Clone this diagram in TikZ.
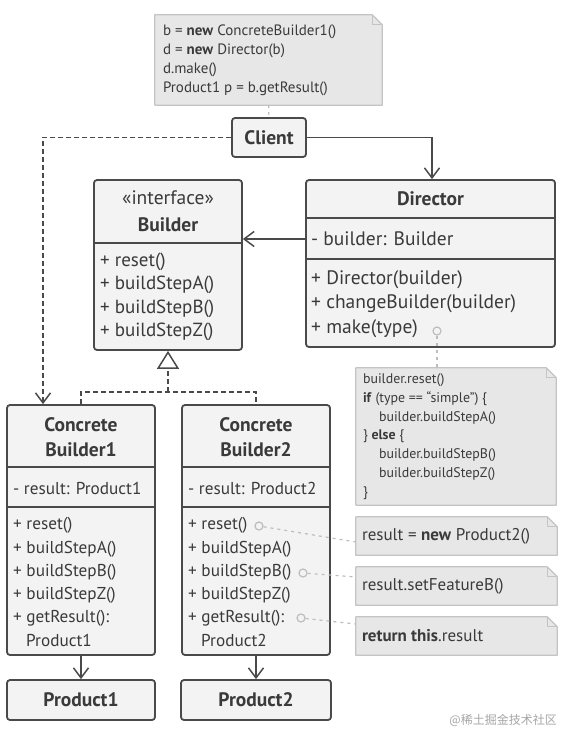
\documentclass[tikz,border=0pt]{standalone}
\usepackage{fontspec}
\setmainfont{PT Sans}
\newfontfamily\cjkfont{Noto Sans CJK SC}
\usetikzlibrary{arrows.meta,positioning}

\definecolor{boxline}{HTML}{4A4A4A}
\definecolor{boxfill}{HTML}{F3F3F3}
\definecolor{notefill}{HTML}{E7E7E7}
\definecolor{noteline}{HTML}{C4C4C4}
\definecolor{hintline}{HTML}{BDBDBD}
\definecolor{txt}{HTML}{3A3A3A}

\tikzset{
  umlbox/.style={draw=boxline, fill=boxfill, line width=1.8pt, rounded corners=3pt, inner sep=0pt, text=txt},
  sepline/.style={draw=boxline, line width=1.8pt},
  heading/.style={inner sep=0pt, align=center, text=txt, font=\bfseries\fontsize{19.5}{25}\selectfont},
  member/.style={anchor=west, inner sep=0pt, align=left, text=txt, font=\fontsize{17.2}{23.3}\selectfont},
  notearea/.style={inner sep=0pt, draw=none},
  notebox/.style={draw=noteline, fill=notefill, line width=1.2pt, line join=round},
  notetext/.style={anchor=west, inner sep=0pt, align=left, text=txt},
  link/.style={draw=boxline, line width=1.5pt, -{Straight Barb[length=10pt,width=15pt]}},
  realize/.style={draw=boxline, line width=1.5pt, dash pattern=on 5pt off 3pt},
  hint/.style={draw=hintline, line width=1.2pt, dash pattern=on 3pt off 4pt},
  hintdot/.style={circle, draw=hintline, line width=1.2pt, fill=boxfill, minimum size=8pt, inner sep=0pt}
}

% note with folded corner, drawn round an empty node
\newcommand{\foldnote}[1]{%
  \draw[notebox] (#1.north west) -- ([xshift=-10pt]#1.north east) -- ([yshift=-10pt]#1.north east) -- (#1.south east) -- (#1.south west) -- cycle;
  \draw[notebox, fill=none] ([xshift=-10pt]#1.north east) -- ([xshift=-10pt,yshift=-10pt]#1.north east) -- ([yshift=-10pt]#1.north east);
}

\begin{document}
\begin{tikzpicture}[x=1pt, y=-1pt]
  \useasboundingbox[fill=white] (0,0) rectangle (574,746);

  % client and its note
  \node[notearea, minimum width=227pt, minimum height=90pt] (cnote) at (268.5,60) {};
  \foldnote{cnote}
  \node[notetext, font=\fontsize{15}{19}\selectfont] (ctext) at ([xshift=8pt]cnote.west) {b = \textbf{new} ConcreteBuilder1()\\d = \textbf{new} Director(b)\\d.make()\\Product1 p = b.getResult()};
  \node[umlbox, minimum width=74pt, minimum height=39pt, font=\bfseries\fontsize{19.5}{22}\selectfont] (client) at (269,137.5) {Client};
  \draw[hint] (cnote) -- (client);

  % director
  \node[umlbox, minimum width=249pt, minimum height=167pt] (director) at (430.5,263.5) {};
  \draw[sepline] (director.west |- 0,218) -- (director.east |- 0,218);
  \draw[sepline] (director.west |- 0,259) -- (director.east |- 0,259);
  \node[heading] (dname) at (430.5,199) {Director};
  \node[member, font=\fontsize{19.5}{24.5}\selectfont] (dattr) at (311,239) {- builder: Builder};
  \node[member, font=\fontsize{19.5}{24.5}\selectfont] (dmeth) at (311,304) {+ Director(builder)\\+ changeBuilder(builder)\\+ make(type)};
  \node[hintdot] (dmk) at (437,331) {};

  % director note
  \node[notearea, minimum width=200pt, minimum height=137pt] (dnote) at (456,436.5) {};
  \foldnote{dnote}
  \node[notetext, font=\fontsize{13.9}{18.8}\selectfont] (dtext) at ([xshift=7pt]dnote.west) {builder.reset()\\\textbf{if} (type == “simple”) \{\\\hspace*{16pt}builder.buildStepA()\\\} \textbf{else} \{\\\hspace*{16pt}builder.buildStepB()\\\hspace*{16pt}builder.buildStepZ()\\\}};
  \draw[hint] (dmk) -- (dmk |- dnote.north);

  % builder interface
  \node[umlbox, minimum width=148pt, minimum height=170pt] (builder) at (168,265) {};
  \draw[sepline] (builder.west |- 0,243) -- (builder.east |- 0,243);
  \node[inner sep=0pt, align=center, text=txt, font=\fontsize{19.5}{27}\selectfont] (bname) at (168,211.5) {«interface»\\\textbf{Builder}};
  \node[member, font=\fontsize{19}{23.5}\selectfont] (bmeth) at (100,297) {+ reset()\\+ buildStepA()\\+ buildStepB()\\+ buildStepZ()};

  % concrete builders
  \node[umlbox, minimum width=148pt, minimum height=250pt] (cb1) at (81,530) {};
  \draw[sepline] (cb1.west |- 0,467) -- (cb1.east |- 0,467);
  \draw[sepline] (cb1.west |- 0,507) -- (cb1.east |- 0,507);
  \node[heading] (cb1name) at (81,437.5) {Concrete\\Builder1};
  \node[member] (cb1attr) at (13,488) {- result: Product1};
  \node[member] (cb1meth) at (13,582) {+ reset()\\+ buildStepA()\\+ buildStepB()\\+ buildStepZ()\\+ getResult():\\\hspace*{13pt}Product1};

  \node[umlbox, minimum width=148pt, minimum height=250pt] (cb2) at (256,530) {};
  \draw[sepline] (cb2.west |- 0,467) -- (cb2.east |- 0,467);
  \draw[sepline] (cb2.west |- 0,507) -- (cb2.east |- 0,507);
  \node[heading] (cb2name) at (256,437.5) {Concrete\\Builder2};
  \node[member] (cb2attr) at (188,488) {- result: Product2};
  \node[member] (cb2meth) at (188,582) {+ reset()\\+ buildStepA()\\+ buildStepB()\\+ buildStepZ()\\+ getResult():\\\hspace*{13pt}Product2};
  \node[hintdot] (rdot) at (259,526) {};
  \node[hintdot] (bdot) at (303,573) {};
  \node[hintdot] (gdot) at (301,618) {};

  % small notes of builder 2
  \node[notearea, minimum width=201pt, minimum height=38pt] (rnote) at (456.5,536) {};
  \foldnote{rnote}
  \node[notetext, font=\fontsize{17}{20}\selectfont] (rtext) at ([xshift=6pt]rnote.west) {result = \textbf{new} Product2()};
  \node[notearea, minimum width=201pt, minimum height=38pt] (bnote) at (456.5,586) {};
  \foldnote{bnote}
  \node[notetext, font=\fontsize{17}{20}\selectfont] (btext) at ([xshift=6pt]bnote.west) {result.setFeatureB()};
  \node[notearea, minimum width=201pt, minimum height=38pt] (gnote) at (456.5,636) {};
  \foldnote{gnote}
  \node[notetext, font=\fontsize{17}{20}\selectfont] (gtext) at ([xshift=6pt]gnote.west) {\textbf{return this}.result};
  \draw[hint] (rdot) -- ([yshift=-6pt]rnote.west);
  \draw[hint] (bdot) -- ([yshift=9pt]bnote.west);
  \draw[hint] (gdot) -- ([yshift=12pt]gnote.west);

  % products
  \node[umlbox, minimum width=148pt, minimum height=40pt, font=\bfseries\fontsize{19.5}{22}\selectfont] (p1) at (81,700) {Product1};
  \node[umlbox, minimum width=150pt, minimum height=40pt, font=\bfseries\fontsize{19.5}{22}\selectfont] (p2) at (256,700) {Product2};

  % connectors
  \draw[link] (client.east) -| ([xshift=1.5pt]director.north);
  \draw[link, dash pattern=on 5pt off 3pt] (client.west) -| ([xshift=-38pt]cb1.north);
  \draw[link] (director.west |- dattr) -- (builder.east |- dattr);
  \coordinate (junc) at (168,392);
  \draw[realize] (cb1.north) |- (junc) -| (cb2.north);
  \draw[realize, -{Triangle[open, length=18pt, width=22pt]}] (junc) -- (builder.south);
  \draw[link] (cb1) -- (p1);
  \draw[link] (cb2) -- (p2);

  \node[anchor=east, inner sep=0pt, text=gray!70, font=\cjkfont\fontsize{12}{14}\selectfont] (mark) at (557,720) {@稀土掘金技术社区};
\end{tikzpicture}
\end{document}
